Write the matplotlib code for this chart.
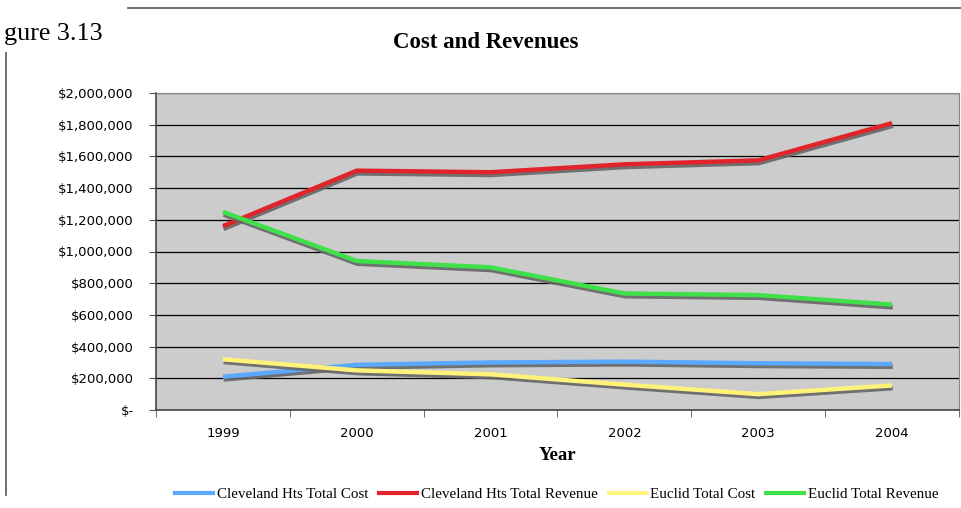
import matplotlib.pyplot as plt
import matplotlib.patheffects as pe
from matplotlib.lines import Line2D
from matplotlib.ticker import FuncFormatter, MultipleLocator

years = ["1999", "2000", "2001", "2002", "2003", "2004"]
clev_cost = [210000, 285000, 300000, 305000, 295000, 290000]
clev_rev = [1160000, 1510000, 1500000, 1550000, 1575000, 1810000]
euclid_cost = [320000, 250000, 225000, 160000, 100000, 155000]
euclid_rev = [1250000, 940000, 900000, 735000, 725000, 665000]

series = [
    ("Cleveland Hts Total Cost", clev_cost, "#5ba8ff"),
    ("Cleveland Hts Total Revenue", clev_rev, "#e1232b"),
    ("Euclid Total Cost", euclid_cost, "#fff27a"),
    ("Euclid Total Revenue", euclid_rev, "#3fe04a"),
]

fig = plt.figure(figsize=(9.61, 5.08), dpi=100)
ax = fig.add_axes([156 / 961, 1 - 410 / 508, 803 / 961, 317 / 508])
ax.set_facecolor("#cccccc")

shadow = [pe.SimpleLineShadow(offset=(0.5, -2), shadow_color="#666666", alpha=0.9), pe.Normal()]
x = list(range(len(years)))
for name, vals, col in series:
    ax.plot(x, vals, color=col, lw=3.2, solid_capstyle="butt",
            path_effects=shadow, zorder=3)

ax.set_xlim(-0.5, len(years) - 0.5)
ax.set_ylim(0, 2000000)
ax.yaxis.set_major_locator(MultipleLocator(200000))
ax.yaxis.set_major_formatter(FuncFormatter(lambda v, p: "$-" if v == 0 else "${:,.0f}".format(v)))
ax.grid(axis="y", color="black", lw=0.9, zorder=1)
ax.set_axisbelow(True)

ax.set_xticks(x)
ax.set_xticklabels(years)
ax.set_xticks([i - 0.5 for i in range(len(years) + 1)], minor=True)
ax.tick_params(axis="x", which="major", length=0, pad=12, labelsize=9.5)
ax.tick_params(axis="x", which="minor", length=5, color="#555555")
ax.tick_params(axis="y", length=5, color="#555555", labelsize=9.5, pad=11)

for s in ["top", "right"]:
    ax.spines[s].set_color("#888888")
for s in ["left", "bottom"]:
    ax.spines[s].set_color("#444444")
    ax.spines[s].set_linewidth(1.2)

ax.set_xlabel("Year", family="Liberation Serif", fontweight="bold", fontsize=13.5, labelpad=5)
fig.text(486 / 961, 1 - 42 / 508, "Cost and Revenues", family="Liberation Serif",
         fontweight="bold", fontsize=16.5, ha="center", va="center")
# label is cut at the page edge in the source
fig.text(103 / 961, 1 - 40 / 508, "gure 3.13", family="Liberation Serif",
         fontsize=18.8, ha="right", va="baseline")

fig.add_artist(Line2D([128 / 961, 1], [1 - 8 / 508, 1 - 8 / 508], color="#555555", lw=1.2))
fig.add_artist(Line2D([6 / 961, 6 / 961], [1 - 53 / 508, 1 - 495 / 508], color="#555555", lw=1.2))

handles = [Line2D([], [], color=c, lw=3) for _, _, c in series]
fig.legend(handles, [n for n, _, _ in series], loc="center", bbox_to_anchor=(557 / 961, 1 - 494 / 508),
           ncol=4, frameon=False, prop={"family": "Liberation Serif", "size": 10.8},
           handlelength=2.5, handletextpad=0.27, columnspacing=0.73, borderpad=0)

fig.savefig("out.png", dpi=100)
